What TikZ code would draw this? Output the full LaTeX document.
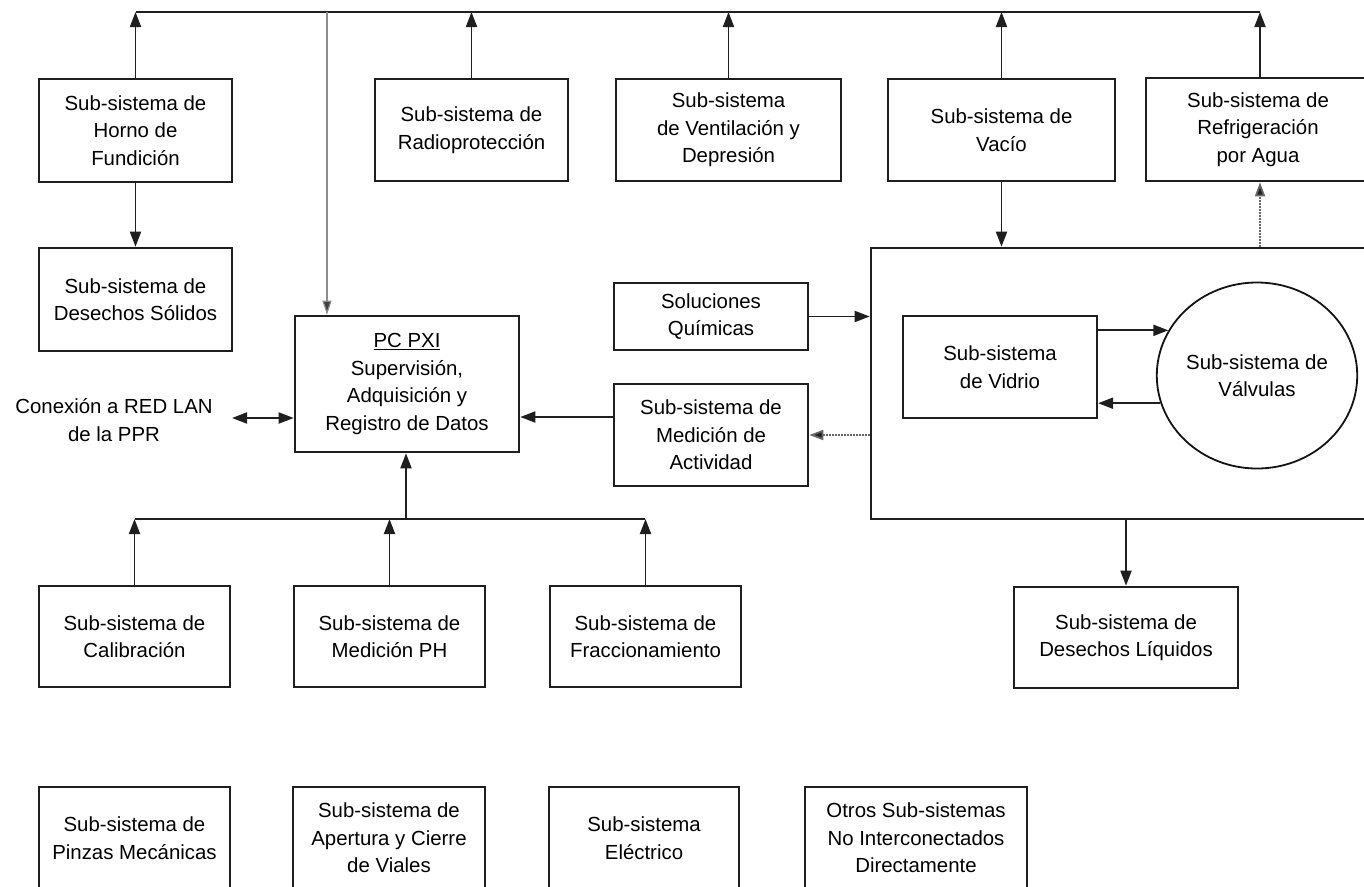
\documentclass[tikz,border=0pt]{standalone}
\usepackage{fontspec}
\setmainfont{Liberation Sans}
\usetikzlibrary{arrows.meta,shapes.geometric}
\begin{document}
\begin{tikzpicture}[x=1pt,y=-1pt,
  txt/.style={align=center, font=\fontsize{20.4}{27.5}\selectfont, inner sep=0pt},
  bx/.style={txt, draw=black!88, line width=2.6pt},
  arr/.style={draw=black!88, line width=1.9pt, -{Triangle[length=15pt,width=11pt]}},
  dblarr/.style={draw=black!88, line width=1.9pt, {Triangle[length=15pt,width=11pt]}-{Triangle[length=15pt,width=11pt]}},
  thinarr/.style={draw=black!45, line width=1.1pt, -{Triangle[length=14pt,width=9pt,fill=black!75]}},
  dotarr/.style={draw=black!60, line width=1.8pt, dash pattern=on 1.6pt off 1.4pt, -{Triangle[length=14pt,width=10pt,fill=black!88]}},
  bus/.style={draw=black!88, line width=2.3pt}
]
\useasboundingbox (0,0) rectangle (1364,886);
\clip (0,0) rectangle (1364,886);

% top row
\node[bx, minimum width=193pt, minimum height=103pt] (horno) at (135.5,130.5) {Sub-sistema de\\Horno de\\Fundición};
\node[bx, minimum width=193pt, minimum height=103pt] (solidos) at (135.5,299.5) {Sub-sistema de\\Desechos Sólidos};
\node[bx, minimum width=193pt, minimum height=102pt] (radio) at (471.5,130) {Sub-sistema de\\Radioprotección};
\node[bx, minimum width=225pt, minimum height=102pt] (vent) at (728.5,130) {Sub-sistema\\de Ventilación y\\Depresión};
\node[bx, minimum width=227pt, minimum height=102pt] (vacio) at (1001.5,130) {Sub-sistema de\\Vacío};
\node[bx, minimum width=224pt, minimum height=103pt] (refri) at (1258,129.5) {Sub-sistema de\\Refrigeración\\por Agua};

% middle
\node[bx, minimum width=224pt, minimum height=136pt] (pc) at (407,384) {\underline{PC PXI}\\Supervisión,\\Adquisición y\\Registro de Datos};
\node[bx, minimum width=194pt, minimum height=67pt] (sol) at (711,316.5) {Soluciones\\Químicas};
\node[bx, minimum width=194pt, minimum height=102pt] (medact) at (711,435) {Sub-sistema de\\Medición de\\Actividad};
\node[draw=black!88, line width=2.6pt, minimum width=509pt, minimum height=271pt, inner sep=0pt] (big) at (1125.5,383.5) {};
\node[bx, line width=2.2pt, minimum width=194pt, minimum height=102pt] (vidrio) at (1000,367) {Sub-sistema\\de Vidrio};
\node[txt, ellipse, draw=black!92, line width=1.8pt, minimum width=192pt, minimum height=186pt] (valv) at (1257,375.5) {Sub-sistema de\\Válvulas};
\node[txt] (lan) at (114,420) {Conexión a RED LAN\\de la PPR};

% lower row
\node[bx, minimum width=191pt, minimum height=101pt] (calib) at (134.5,636.5) {Sub-sistema de\\Calibración};
\node[bx, minimum width=191pt, minimum height=101pt] (ph) at (389.5,636.5) {Sub-sistema de\\Medición PH};
\node[bx, minimum width=191pt, minimum height=101pt] (frac) at (645.5,636.5) {Sub-sistema de\\Fraccionamiento};
\node[bx, minimum width=224pt, minimum height=101pt] (liq) at (1126,637.5) {Sub-sistema de\\Desechos Líquidos};

% bottom row (cut by the lower edge)
\node[bx, minimum width=191pt, minimum height=102pt] (pinzas) at (134.5,838) {Sub-sistema de\\Pinzas Mecánicas};
\node[bx, minimum width=192pt, minimum height=102pt] (apert) at (389,838) {Sub-sistema de\\Apertura y Cierre\\de Viales};
\node[bx, minimum width=190pt, minimum height=102pt] (elec) at (644,838) {Sub-sistema\\Eléctrico};
\node[bx, minimum width=222pt, minimum height=102pt] (otros) at (916,838) {Otros Sub-sistemas\\No Interconectados\\Directamente};

% top bus
\coordinate (busL) at (136,12);
\coordinate (busR) at (1260,12);
\coordinate (tap) at (327,12);
\draw[bus] (busL) -- (busR);
\draw[arr] (horno.north) -- (horno.north |- busL);
\draw[arr] (radio.north) -- (radio.north |- busL);
\draw[arr] (vent.north) -- (vent.north |- busL);
\draw[arr] (vacio.north) -- (vacio.north |- busL);
\draw[arr] (refri.north -| busR) -- (busR);
\draw[thinarr] (tap) -- (tap |- pc.north);

% other connectors
\draw[arr] (horno.south) -- (solidos.north);
\draw[arr] (vacio.south) -- (vacio.south |- big.north);
\draw[dotarr] (big.north -| busR) -- (refri.south -| busR);
\draw[arr] (sol.east) -- (sol.east -| big.west);
\draw[dotarr] (big.west |- medact.east) -- (medact.east);
\draw[arr] ([yshift=18pt]medact.west) -- ([yshift=18pt]medact.west -| pc.east);
\coordinate (lanR) at (232,418);
\draw[dblarr] (lanR) -- (lanR -| pc.west);
\draw[arr] (vidrio.east |- valv.153) -- (valv.153);
\draw[arr] (valv.196) -- (vidrio.east |- valv.196);
\draw[arr] (big.south -| liq.north) -- (liq.north);

% lower bus
\coordinate (bbL) at (135,519);
\coordinate (bbR) at (645,519);
\coordinate (bbM) at (406,519);
\draw[bus, line width=2.9pt] (bbL) -- (bbR);
\draw[arr] (calib.north) -- (calib.north |- bbL);
\draw[arr] (ph.north) -- (ph.north |- bbL);
\draw[arr] (frac.north) -- (frac.north |- bbL);
\draw[arr] (bbM) -- (bbM |- pc.south);
\end{tikzpicture}
\end{document}
